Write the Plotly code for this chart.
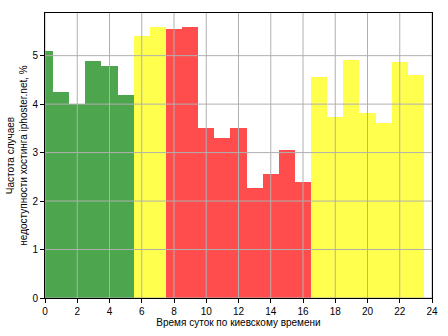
import plotly.graph_objects as go

# Hour of day (Kyiv time) and share of downtime cases, %
hours = list(range(24))
freq = [5.10, 4.26, 4.00, 4.90, 4.79, 4.19, 5.41, 5.60, 5.54, 5.60,
        3.50, 3.31, 3.51, 2.26, 2.55, 3.06, 2.40, 4.55, 3.74, 4.92,
        3.82, 3.62, 4.86, 4.61]
# Time-of-day zone for each hour
zones = ["night"] * 6 + ["shoulder"] * 2 + ["day"] * 9 + ["shoulder"] * 7
zone_colors = {"night": "rgb(77,166,77)", "shoulder": "rgb(255,255,77)", "day": "rgb(255,77,77)"}

x_ticks = list(range(0, 25, 2))
y_ticks = list(range(0, 6))
y_max = max(freq) * 1.05

fig = go.Figure(go.Bar(
    x=hours, y=freq, width=1,
    marker=dict(color=[zone_colors[z] for z in zones], line=dict(width=0)),
))

grid_style = dict(color="#b0b0b0", width=1)
shapes = []
for xv in x_ticks:
    shapes.append(dict(type="line", xref="x", yref="paper", x0=xv, x1=xv, y0=0, y1=1,
                       line=grid_style, layer="above"))
for yv in y_ticks:
    shapes.append(dict(type="line", xref="paper", yref="y", x0=0, x1=1, y0=yv, y1=yv,
                       line=grid_style, layer="above"))

axis_common = dict(
    showgrid=False, zeroline=False, showline=True, linecolor="black", linewidth=1,
    mirror=True, ticks="outside", ticklen=4, tickcolor="black", tickwidth=1,
    tickfont=dict(family="Liberation Sans, Arial", size=10, color="black"),
    layer="above traces", automargin=False,
)

fig.update_layout(
    width=448, height=336,
    margin=dict(l=45, r=16, t=13, b=38),
    paper_bgcolor="white", plot_bgcolor="white",
    showlegend=False, bargap=0,
    shapes=shapes,
    font=dict(family="Liberation Sans, Arial", size=10, color="black"),
    xaxis=dict(range=[0, 24], tickvals=x_ticks,
               title=dict(text="Время суток по киевскому времени", standoff=1,
                          font=dict(size=10)),
               **axis_common),
    yaxis=dict(range=[0, y_max], tickvals=y_ticks,
               title=dict(text="Частота случаев<br>недоступности хостинга iphoster.net, %",
                          standoff=2, font=dict(size=10)),
               **axis_common),
)

fig.write_html("out.html")
